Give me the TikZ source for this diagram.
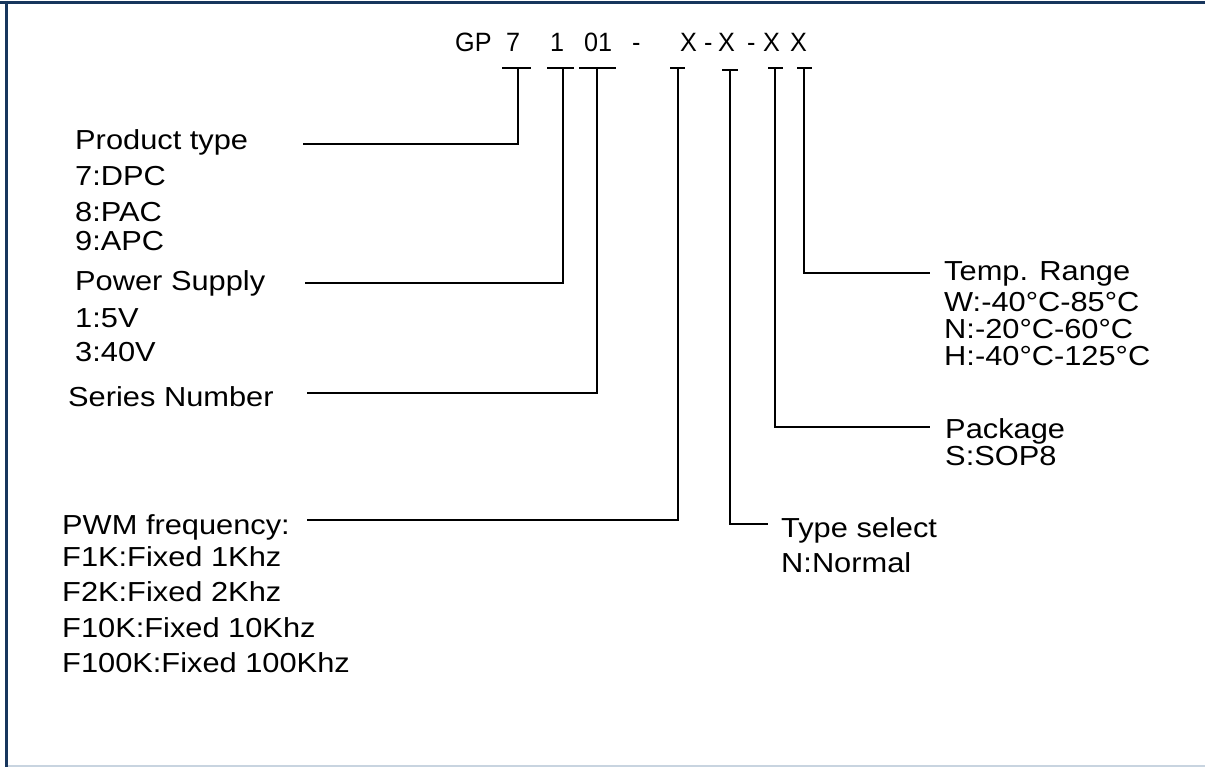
\documentclass[tikz,border=0pt]{standalone}
\usepackage{fontspec}
\setmainfont[FakeStretch=1.12]{Liberation Sans}
\newfontfamily\codefont[FakeStretch=0.95]{Liberation Sans}
\definecolor{navy}{RGB}{23,54,93}
\definecolor{lightedge}{RGB}{200,212,224}
\begin{document}
\begin{tikzpicture}[x=1pt,y=-1pt,
  txt/.style={anchor=base west, inner sep=0pt, font=\fontsize{27.5}{30}\selectfont},
  code/.style={anchor=base west, inner sep=0pt, font=\codefont\fontsize{26.5}{30}\selectfont},
  conn/.style={line width=1.7pt, black},
  tbar/.style={line width=1.7pt, black}]
\useasboundingbox (0,0) rectangle (1205,767);
\fill[white] (0,0) rectangle (1205,767);
% frame
\draw[navy, line width=3pt] (0,2.5) -- (1205,2.5);
\draw[navy, line width=2.5pt] (6.5,1) -- (6.5,767);
\draw[lightedge, line width=2pt] (8,766) -- (1205,766);

% part number
\node[code] (gp) at (455,52) {GP};
\node[code] (p7) at (506,52) {7};
\node[code] (p1) at (550,52) {1};
\node[code] (p01) at (584,52) {01};
\node[code] (d1) at (632,52) {-};
\node[code] (x1) at (680,52) {X};
\node[code] (d2) at (704,52) {-};
\node[code] (x2) at (718,52) {X};
\node[code] (d3) at (747,52) {-};
\node[code] (x3) at (763,52) {X};
\node[code] (x4) at (790,52) {X};

% T bars
\draw[tbar] (502,68) -- (531,68);
\draw[tbar] (547,68) -- (574,68);
\draw[tbar] (579,68) -- (616,68);
\draw[tbar] (670,68) -- (685,68);
\draw[tbar] (722,70) -- (738,70);
\draw[tbar] (768,68) -- (783,68);
\draw[tbar] (797,68) -- (812,68);
\coordinate (s1) at (518,68);
\coordinate (s2) at (563,68);
\coordinate (s3) at (597,68);
\coordinate (s4) at (678,68);
\coordinate (s5) at (730,70);
\coordinate (s6) at (775,68);
\coordinate (s7) at (804,68);

% left labels
\node[txt] (prod) at (75,150) {Product type};
\node[txt] (dpc) at (75,186) {7:DPC};
\node[txt] (pac) at (75,222) {8:PAC};
\node[txt] (apc) at (75,251) {9:APC};
\node[txt] (pow) at (75,291) {Power Supply};
\node[txt] (v5) at (75,327) {1:5V};
\node[txt] (v40) at (75,362) {3:40V};
\node[txt] (ser) at (68,406) {Series Number};
\node[txt] (pwm) at (62,534) {PWM frequency:};
\node[txt] (f1) at (62,566) {F1K:Fixed 1Khz};
\node[txt] (f2) at (62,601) {F2K:Fixed 2Khz};
\node[txt] (f10) at (62,637) {F10K:Fixed 10Khz};
\node[txt] (f100) at (62,672) {F100K:Fixed 100Khz};

% right labels
\node[txt] (temp) at (944,281) {Temp. Range};
\node[txt] (tw) at (944,312) {W:-40°C-85°C};
\node[txt] (tn) at (944,338) {N:-20°C-60°C};
\node[txt] (th) at (944,365) {H:-40°C-125°C};
\node[txt] (pkg) at (945,438) {Package};
\node[txt] (sop) at (945,465) {S:SOP8};
\node[txt] (typ) at (781,537) {Type select};
\node[txt] (norm) at (781,572) {N:Normal};

% line ends
\coordinate (e1) at (303,144);
\coordinate (e2) at (305,283);
\coordinate (e3) at (307,393);
\coordinate (e4) at (307,520);
\coordinate (e5) at (768,524);
\coordinate (e6) at (930,427);
\coordinate (e7) at (930,273);

\draw[conn] (s1) |- (e1);
\draw[conn] (s2) |- (e2);
\draw[conn] (s3) |- (e3);
\draw[conn] (s4) |- (e4);
\draw[conn] (s5) |- (e5);
\draw[conn] (s6) |- (e6);
\draw[conn] (s7) |- (e7);
\end{tikzpicture}
\end{document}
